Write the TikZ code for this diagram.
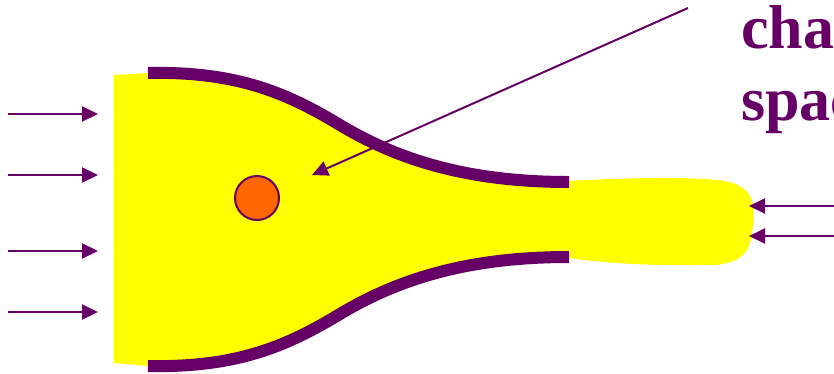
\documentclass[tikz,border=0pt]{standalone}
\usepackage{fontspec}
\setmainfont{Liberation Serif}
\usetikzlibrary{arrows.meta,positioning}

\definecolor{plum}{RGB}{102,0,102}
\definecolor{beam}{RGB}{255,255,0}
\definecolor{spot}{RGB}{255,102,0}

\tikzset{
  flow/.style={draw=plum,line width=2pt,-{Triangle[length=16pt,width=15pt]}},
  wall/.style={draw=plum,line width=12pt,line cap=butt},
  charge/.style={circle,draw=plum,line width=2pt,fill=spot,minimum size=44pt,inner sep=0pt},
  word/.style={anchor=base west,inner sep=0pt,text=plum,font=\bfseries\fontsize{62}{72}\selectfont}
}

\begin{document}
\begin{tikzpicture}[x=1pt,y=-1pt]
    \clip (0,0) rectangle (834,373);
    % yellow region
    \fill[beam] (114,75) -- (148,73)
      .. controls (240,71) and (290,95) .. (340,125)
      .. controls (400,161) and (470,182) .. (569,181)
      .. controls (620,178) and (690,176) .. (725,181)
      .. controls (750,186) and (755,200) .. (753,220)
      .. controls (752,250) and (745,262) .. (715,265)
      .. controls (660,266) and (610,264) .. (569,258)
      .. controls (470,257) and (400,278) .. (340,314)
      .. controls (290,344) and (240,368) .. (148,366)
      -- (114,363) -- cycle;
    % walls
    \draw[wall] (148,73) .. controls (240,71) and (290,95) .. (340,125)
      .. controls (400,161) and (470,182) .. (569,182);
    \draw[wall] (148,366) .. controls (240,368) and (290,344) .. (340,314)
      .. controls (400,278) and (470,257) .. (569,257);
    \node[charge] (ion) at (257,198) {};
    % label
    \node[word] (cha) at (741,48) {charge};
    \node[word] (spa) at ([yshift=-72pt]cha.base west) {space};
    \coordinate (tail) at (688,8);
    \coordinate (tip) at (312,175);
    \draw[flow] (tail) -- (tip);
    % incoming arrows
    \foreach \i/\y in {1/114,2/175,3/251,4/312}{
      \coordinate (in\i) at (8,\y);
      \coordinate (to\i) at (98,\y);
      \draw[flow] (in\i) -- (to\i);
    }
    \foreach \i/\y in {1/206,2/236}{
      \coordinate (out\i) at (840,\y);
      \coordinate (end\i) at (749,\y);
      \draw[flow] (out\i) -- (end\i);
    }
\end{tikzpicture}
\end{document}
